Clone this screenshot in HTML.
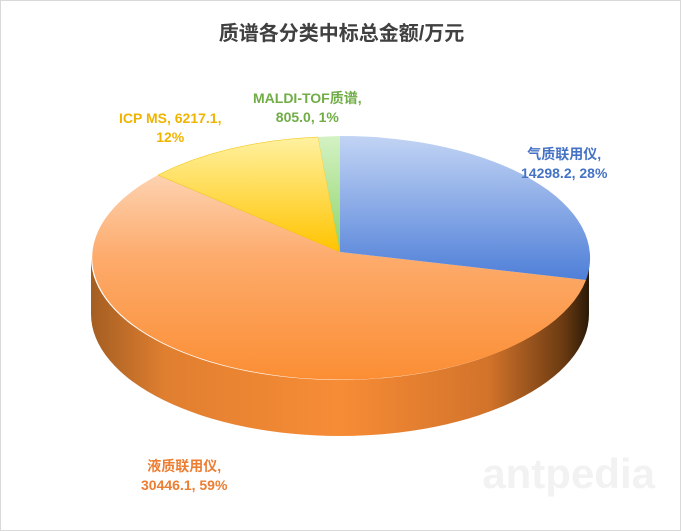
<!DOCTYPE html>
<html><head><meta charset="utf-8"><style>
body{margin:0;background:#fff;}
.c{position:relative;width:679px;height:529px;border:1px solid #d9d9d9;background:#fff;overflow:hidden;font-family:"Liberation Sans","Noto Sans CJK SC",sans-serif;}
.t{position:absolute;font-weight:bold;font-size:14px;white-space:nowrap;text-align:center;}
</style></head><body><div class="c">
<svg width="681" height="531" style="position:absolute;left:-1px;top:-1px">
<defs>
<linearGradient id="side" x1="0" x2="1" y1="0" y2="0">
<stop offset="0" stop-color="#a45e22"/><stop offset="0.15" stop-color="#e07f30"/><stop offset="0.5" stop-color="#f78c36"/><stop offset="0.8" stop-color="#d2732a"/><stop offset="0.95" stop-color="#6a3a12"/><stop offset="1" stop-color="#2a1a08"/>
</linearGradient>
<linearGradient id="org" x1="0" x2="0" y1="0" y2="1"><stop offset="0" stop-color="#fdd2b0"/><stop offset="0.4" stop-color="#fdab6c"/><stop offset="1" stop-color="#fb8e34"/></linearGradient>
<linearGradient id="blu" x1="0" x2="0" y1="0" y2="1"><stop offset="0" stop-color="#c2d4f4"/><stop offset="1" stop-color="#4f7fd8"/></linearGradient>
<linearGradient id="yel" x1="0" x2="0" y1="0" y2="1"><stop offset="0" stop-color="#fff1a0"/><stop offset="1" stop-color="#ffc400"/></linearGradient>
<linearGradient id="grn" x1="0" x2="0" y1="0" y2="1"><stop offset="0" stop-color="#d4f2c4"/><stop offset="1" stop-color="#8ed46a"/></linearGradient>
</defs>
<path d="M589,258 A249,122 0 0 1 91,258 L91,314 A249,122 0 0 0 589,314 Z" fill="url(#side)"/>
<path d="M340,252 L158,175 A249,122 0 1 0 586,280 Z" fill="url(#org)"/>
<path d="M340,252 L340,136 A249,122 0 0 1 586,280 Z" fill="url(#blu)"/>
<path d="M340,252 L158,175 A249,122 0 0 1 318,137 Z" fill="url(#yel)" stroke="#f0c000" stroke-width="0.5"/>
<path d="M340,252 L318,137 A249,122 0 0 1 340,136 Z" fill="url(#grn)"/>
<text x="655" y="488" font-family="Liberation Sans" font-size="42" fill="#f2f2f2" text-anchor="end" font-weight="bold">antpedia</text>
</svg>
<div class="t" style="left:0;width:681px;top:16px;font-size:20px;color:#404040">质谱各分类中标总金额/万元</div>
<div class="t" style="left:520px;top:144px;color:#4472c4;line-height:19px">气质联用仪,<br>14298.2, 28%</div>
<div class="t" style="left:118px;top:108px;color:#f0b400;line-height:19px">ICP MS, 6217.1,<br>12%</div>
<div class="t" style="left:252px;top:88px;color:#70ad47;line-height:19px">MALDI-TOF质谱,<br>805.0, 1%</div>
<div class="t" style="left:140px;top:456px;color:#ed7d31;line-height:19px">液质联用仪,<br>30446.1, 59%</div>
</div></body></html>
